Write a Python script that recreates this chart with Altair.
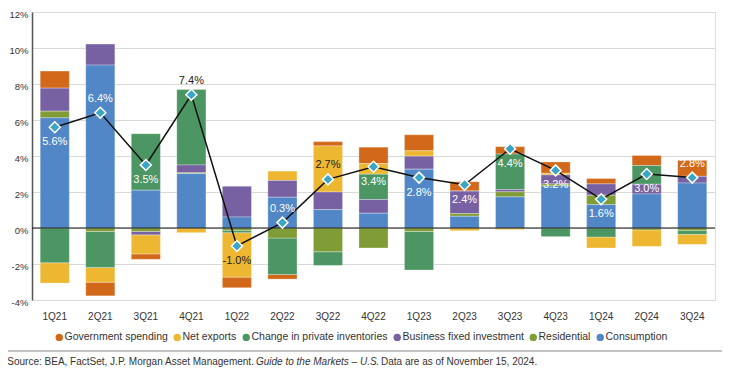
import altair as alt
import pandas as pd

quarters = ["1Q21", "2Q21", "3Q21", "4Q21", "1Q22", "2Q22", "3Q22", "4Q22",
            "1Q23", "2Q23", "3Q23", "4Q23", "1Q24", "2Q24", "3Q24"]
consumption = [6.12, 9.05, 2.10, 3.02, 0.61, 1.71, 1.02, 0.82, 3.27, 0.65, 1.73, 2.34, 1.30, 1.89, 2.50]
residential = [0.37, -0.19, -0.19, 0.05, -0.13, -0.56, -1.32, -1.11, -0.19, 0.15, 0.28, 0.11, 0.52, -0.11, -0.13]
business_investment = [1.28, 1.17, -0.19, 0.43, 1.71, 0.93, 0.98, 0.76, 0.72, 1.25, 0.13, 0.50, 0.63, 0.54, 0.37]
inventories = [-1.93, -2.00, 3.14, 4.19, -0.13, -2.02, -0.76, 1.41, -2.15, 0.0, 1.97, -0.48, -0.50, 1.04, -0.22]
net_exports = [-1.13, -0.82, -1.06, -0.26, -2.47, 0.52, 2.56, 0.59, 0.30, -0.15, -0.09, 0.09, -0.61, -0.91, -0.56]
government = [0.95, -0.76, -0.30, 0.0, -0.59, -0.26, 0.24, 0.91, 0.89, 0.52, 0.41, 0.63, 0.30, 0.56, 0.89]
gdp = [5.6, 6.4, 3.5, 7.4, -1.0, 0.3, 2.7, 3.4, 2.8, 2.4, 4.4, 3.2, 1.6, 3.0, 2.8]
y_ticks = [-4, -2, 0, 2, 4, 6, 8, 10, 12]

components = ["Government spending", "Net exports", "Change in private inventories",
              "Business fixed investment", "Residential", "Consumption"]
component_colors = ["#D2691A", "#EDB732", "#4B9662", "#7761A3", "#809C36", "#5187C6"]
labels_above = ["2Q21", "4Q21", "2Q22", "3Q22", "3Q24"]
labels_dark = ["4Q21", "1Q22", "3Q22"]

FONT = "Liberation Sans"

series = [government, net_exports, inventories, business_investment, residential, consumption]
rows = []
for i, (name, vals) in enumerate(zip(components, series)):
    for q, v in zip(quarters, vals):
        rows.append({"quarter": q, "component": name, "value": v, "rank": len(components) - 1 - i})
bars_df = pd.DataFrame(rows)
gdp_df = pd.DataFrame({"quarter": quarters, "gdp": gdp,
                       "label": [f"{v:.1f}%" for v in gdp]})

x_axis = alt.Axis(title=None, labelAngle=0, domain=False, ticks=False,
                  labelPadding=11, labelFontSize=10, labelColor="#333333", labelFont=FONT)
x_enc = alt.X("quarter:N", sort=quarters,
              scale=alt.Scale(paddingInner=0.36, paddingOuter=0.18), axis=x_axis)
y_scale = alt.Scale(domain=[-4, 12], nice=False, zero=False)
y_axis = alt.Axis(values=y_ticks, labelExpr="datum.value + '%'", title=None,
                  ticks=False, domainColor="#555555", domainWidth=1.5,
                  gridColor="#d9d9d9", gridWidth=1, labelPadding=4, labelOffset=2,
                  labelFontSize=9.5, labelColor="#333333", labelFont=FONT)


def yq(field):
    return alt.Y(field, scale=y_scale, axis=y_axis, title=None)


def xq():
    return alt.X("quarter:N", sort=quarters, axis=x_axis)


bars = alt.Chart(bars_df).mark_bar(stroke="white", strokeWidth=0.5, strokeOpacity=0.6).encode(
    x=x_enc,
    y=alt.Y("value:Q", stack="zero", scale=y_scale, axis=y_axis, title=None),
    color=alt.Color("component:N", sort=components,
                    scale=alt.Scale(domain=components, range=component_colors),
                    legend=alt.Legend(orient="none", legendX=22, legendY=320,
                                      direction="horizontal", columns=6, title=None,
                                      symbolType="circle", symbolSize=55, symbolStrokeWidth=0,
                                      labelFontSize=10.5, labelColor="#333333", labelFont=FONT,
                                      columnPadding=4, labelOffset=0)),
    order=alt.Order("rank:Q", sort="ascending"),
)

zero = alt.Chart(pd.DataFrame({"z": [0]})).mark_rule(color="#111111", strokeWidth=1.2).encode(
    y=yq("z:Q"))

line = alt.Chart(gdp_df).mark_line(color="#111111", strokeWidth=1.5).encode(
    x=xq(), y=yq("gdp:Q"))

points = alt.Chart(gdp_df).mark_point(shape="diamond", filled=True, size=121, fill="#3AA5C5",
                                      stroke="white", strokeWidth=1.5, opacity=1).encode(
    x=xq(), y=yq("gdp:Q"))

label_color = alt.condition(alt.FieldOneOfPredicate(field="quarter", oneOf=labels_dark),
                            alt.value("#222222"), alt.value("#ffffff"))

text_above = alt.Chart(gdp_df).transform_filter(
    alt.FieldOneOfPredicate(field="quarter", oneOf=labels_above)
).mark_text(dy=-14, fontSize=11, font=FONT).encode(
    x=xq(), y=yq("gdp:Q"), text="label:N", color=label_color)

text_below = alt.Chart(gdp_df).transform_filter(
    {"not": alt.FieldOneOfPredicate(field="quarter", oneOf=labels_above)}
).mark_text(dy=15, fontSize=11, font=FONT).encode(
    x=xq(), y=yq("gdp:Q"), text="label:N", color=label_color)

one = pd.DataFrame({"a": [0]})
separator = alt.Chart(one).mark_rule(color="#b0b0b0", strokeWidth=1.5).encode(
    x=alt.value(-29), x2=alt.value(690), y=alt.value(339))

foot1 = alt.Chart(one).mark_text(align="left", baseline="middle", fontSize=10, font=FONT,
                                 color="#333333").encode(
    x=alt.value(-24.7), y=alt.value(350.3),
    text=alt.value("Source: BEA, FactSet, J.P. Morgan Asset Management."))
foot2 = alt.Chart(one).mark_text(align="left", baseline="middle", fontSize=10, font=FONT,
                                 fontStyle="italic", color="#333333").encode(
    x=alt.value(224), y=alt.value(350.3),
    text=alt.value("Guide to the Markets – U.S."))
foot3 = alt.Chart(one).mark_text(align="left", baseline="middle", fontSize=10, font=FONT,
                                 color="#333333").encode(
    x=alt.value(349), y=alt.value(350.3),
    text=alt.value("Data are as of November 15, 2024."))

chart = alt.layer(bars, zero, line, points, text_above, text_below, separator, foot1, foot2, foot3).properties(
    width=683, height=288,
    padding={"left": 24, "top": 4, "right": 9, "bottom": 69},
    autosize=alt.AutoSizeParams(type="none"),
).configure_view(stroke=None).configure(background="white")

chart.save("out.html", embed_options={"renderer": "svg", "actions": False})
